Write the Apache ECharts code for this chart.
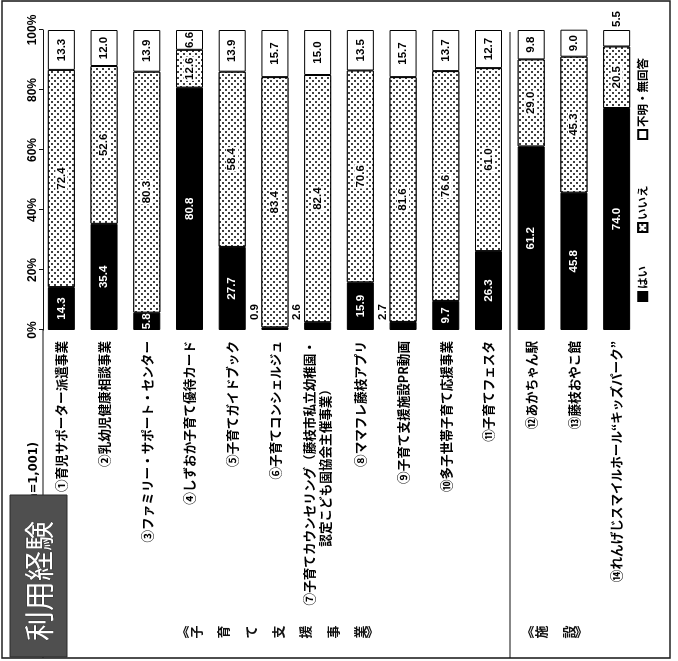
<!DOCTYPE html>
<html>
<head>
<meta charset="utf-8">
<script src="https://cdn.jsdelivr.net/npm/echarts@6.0.0/dist/echarts.min.js"></script>
<style>
  html, body { margin: 0; padding: 0; background: #fff; overflow: hidden; }
  /* The chart is laid out as a horizontal bar chart and turned a quarter turn
     counter-clockwise, so the page reads sideways like the printed report. */
  #wrap {
    position: absolute; left: 0; top: 0;
    width: 661px; height: 678px;
    transform-origin: 0 0;
    transform: translate(0, 661px) rotate(-90deg);
    background: #fff;
  }
</style>
</head>
<body>
<div id="wrap"></div>
<script>
// ---- data ----
const categories = [
  '①育児サポーター派遣事業',
  '②乳幼児健康相談事業',
  '③ファミリー・サポート・センター',
  '④しずおか子育て優待カード',
  '⑤子育てガイドブック',
  '⑥子育てコンシェルジュ',
  '⑦子育てカウンセリング（藤枝市私立幼稚園・\n認定こども園協会主催事業）',
  '⑧ママフレ藤枝アプリ',
  '⑨子育て支援施設PR動画',
  '⑩多子世帯子育て応援事業',
  '⑪子育てフェスタ',
  '⑫あかちゃん駅',
  '⑬藤枝おやこ館',
  '⑭れんげじスマイルホール“キッズパーク”'
];
const seriesNames = ['はい', 'いいえ', '不明・無回答'];
const yesValues     = [14.3, 35.4, 5.8, 80.8, 27.7, 0.9, 2.6, 15.9, 2.7, 9.7, 26.3, 61.2, 45.8, 74.0];
const noValues      = [72.4, 52.6, 80.3, 12.6, 58.4, 83.4, 82.4, 70.6, 81.6, 76.6, 61.0, 29.0, 45.3, 20.5];
const unknownValues = [13.3, 12.0, 13.9, 6.6, 13.9, 15.7, 15.0, 13.5, 15.7, 13.7, 12.7, 9.8, 9.0, 5.5];
const axisTicks = [0, 20, 40, 60, 80, 100];
const chartTitle = '利用経験';
const sampleNote = '(n=1,001)';
const groupNames = ['子育て支援事業', '施設'];

// ---- styling ----
const JP = "'Noto Sans CJK JP', 'Noto Sans', sans-serif";
const NUM = "'Liberation Sans Narrow', 'Arial Narrow', 'Liberation Sans', sans-serif";

const chart = echarts.init(document.getElementById('wrap'), null, {
  renderer: 'canvas', width: 661, height: 678
});

const fmt = v => Number(v).toFixed(1);

// segments too thin to hold their number get it drawn next to them
function yesItem(v) {
  const item = { value: v };
  if (v < 4) {
    item.label = {
      position: [10, -1], align: 'left', verticalAlign: 'bottom',
      color: '#000'
    };
  }
  return item;
}
function unknownItem(v) {
  const item = { value: v };
  if (v < 6) {
    item.label = { position: 'right', distance: 3 };
  }
  return item;
}

const baseLabel = {
  show: true, fontFamily: NUM, fontSize: 11.5, fontWeight: 'bold',
  formatter: p => fmt(p.value)
};

const dotted = {
  symbol: 'circle', symbolSize: 1, color: '#000', backgroundColor: '#fff',
  dashArrayX: [[1.7, 3.7], [0, 2.7, 1.7, 1.0]],
  dashArrayY: [1.7, 1.0]
};

// group captions set as upright vertical text on the far side
function stackedChars(text, centerV, spacing, u) {
  const els = [];
  const chars = Array.from(text);
  const start = centerV - spacing * (chars.length - 1) / 2;
  const font = { fontFamily: JP, fontSize: 13, fontWeight: 'bold', fill: '#111',
                 align: 'center', verticalAlign: 'middle' };
  els.push({ type: 'text', x: u, y: start - 14, style: Object.assign({ text: '︽' }, font) });
  chars.forEach((c, i) => {
    els.push({ type: 'text', x: u, y: start + spacing * i, style: Object.assign({ text: c }, font) });
  });
  els.push({ type: 'text', x: u, y: start + spacing * (chars.length - 1) + 12,
             style: Object.assign({ text: '︾' }, font) });
  return els;
}

const legendCommon = {
  orient: 'horizontal', top: 637, itemWidth: 9, itemHeight: 9, itemGap: 0,
  padding: 0, selectedMode: false, icon: 'rect',
  textStyle: { fontFamily: JP, fontSize: 11.5, fontWeight: 'bold', color: '#000', padding: [0, 0, 0, -2] }
};

const catText = { fontFamily: JP, fontSize: 12.6, fontWeight: 'bold', color: '#000', lineHeight: 16 };

const option = {
  animation: false,
  backgroundColor: '#fff',
  grid: { left: 331, right: 30, top: 40, bottom: 40 },
  legend: [
    Object.assign({ data: [seriesNames[0]], left: 359 }, legendCommon),
    Object.assign({ data: [seriesNames[1]], left: 428 }, legendCommon),
    Object.assign({ data: [seriesNames[2]], left: 521 }, legendCommon)
  ],
  xAxis: {
    type: 'value', position: 'top', offset: -3,
    min: axisTicks[0], max: axisTicks[axisTicks.length - 1],
    interval: axisTicks[1] - axisTicks[0],
    axisLine: { show: true, lineStyle: { color: '#111', width: 1.2 } },
    axisTick: { show: true, length: 4, lineStyle: { color: '#111', width: 1 } },
    splitLine: { show: false },
    axisLabel: {
      formatter: '{value}%', fontFamily: NUM, fontSize: 12, fontWeight: 'bold',
      color: '#000', margin: 4
    }
  },
  yAxis: {
    type: 'category', data: categories, inverse: true,
    axisLine: { show: false }, axisTick: { show: false },
    axisLabel: Object.assign({}, catText, {
      margin: 11,
      // the second line of a wrapped name is set in from the bar side
      formatter: v => {
        const parts = v.split('\n');
        if (parts.length < 2) return v;
        return '{t|' + parts[0] + '}\n{t|' + parts[1] + '}{gap|\u3000\u3000\u3000}';
      },
      rich: {
        t: Object.assign({}, catText),
        gap: { width: 42, lineHeight: 16, fontSize: 12.6, fontFamily: JP }
      }
    })
  },
  series: [
    {
      name: seriesNames[0], type: 'bar', stack: 'all', barWidth: 27,
      itemStyle: { color: '#000', borderColor: '#000', borderWidth: 1 },
      label: Object.assign({}, baseLabel, { position: 'inside', color: '#fff' }),
      data: yesValues.map(yesItem)
    },
    {
      name: seriesNames[1], type: 'bar', stack: 'all', barWidth: 27,
      itemStyle: { color: '#fff', borderColor: '#000', borderWidth: 1, decal: dotted },
      label: Object.assign({}, baseLabel, {
        position: 'inside', color: '#000', backgroundColor: '#fff', padding: [0, 1]
      }),
      data: noValues.slice()
    },
    {
      name: seriesNames[2], type: 'bar', stack: 'all', barWidth: 27,
      itemStyle: { color: '#fff', borderColor: '#000', borderWidth: 1 },
      label: Object.assign({}, baseLabel, { position: 'inside', color: '#000' }),
      data: unknownValues.map(unknownItem)
    }
  ],
  graphic: [
    // page frame
    { type: 'rect', z: 1, shape: { x: 3, y: 2, width: 657, height: 668 },
      style: { fill: 'none', stroke: '#222', lineWidth: 1.6 } },
    // rule under the header, continuing the value axis
    { type: 'line', z: 1, shape: { x1: 3, y1: 43, x2: 331, y2: 43 },
      style: { stroke: '#111', lineWidth: 1.2 } },
    // divider between the two groups
    { type: 'line', z: 1, shape: { x1: 3, y1: 510, x2: 629, y2: 510 },
      style: { stroke: '#111', lineWidth: 1.2 } },
    { type: 'text', z: 5, x: 219, y: 34,
      style: { text: sampleNote, fontFamily: "'DejaVu Sans', sans-serif", fontSize: 11.5,
               fontWeight: 'bold', fill: '#000', align: 'right', verticalAlign: 'middle' } },
    // title plate
    { type: 'rect', z: 50, shape: { x: 4, y: 10, width: 162, height: 57 },
      style: { fill: '#4f4f4f', stroke: '#2a2a2a', lineWidth: 1 } },
    { type: 'text', z: 51, x: 80, y: 39,
      style: { text: chartTitle, fontFamily: JP, fontSize: 30, fontWeight: 'normal',
               fill: '#fff', stroke: '#222', lineWidth: 0.6,
               align: 'center', verticalAlign: 'middle' } }
  ]
    .concat(stackedChars(groupNames[0], 278, 27.3, 29))
    .concat(stackedChars(groupNames[1], 555, 27.3, 29))
};

chart.setOption(option);
</script>
</body>
</html>
